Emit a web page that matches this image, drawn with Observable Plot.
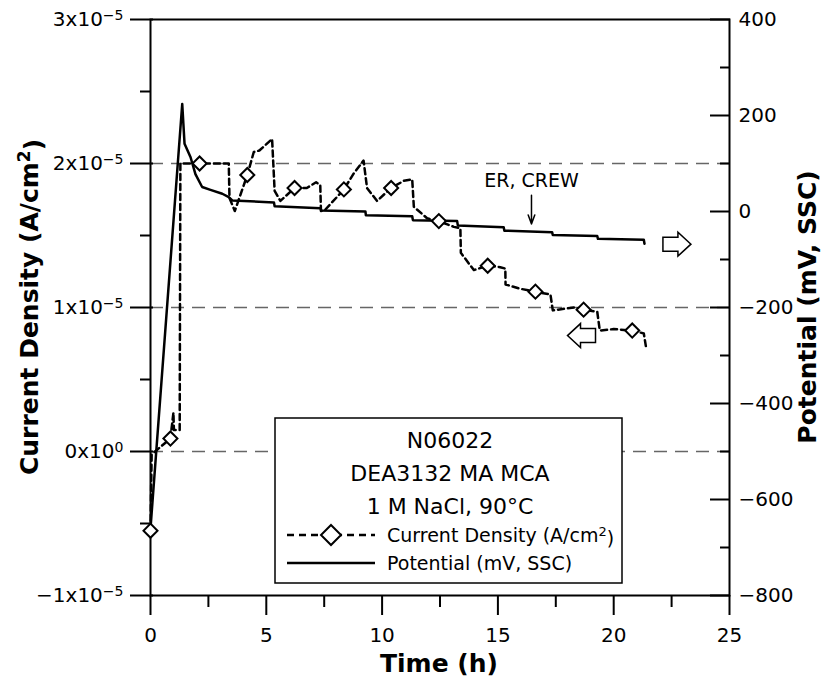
<!DOCTYPE html>
<html><head><meta charset="utf-8">
<script src="https://cdn.jsdelivr.net/npm/d3@7"></script>
<script src="https://cdn.jsdelivr.net/npm/@observablehq/plot@0.6"></script>
<style>html,body{margin:0;padding:0;background:#fff;} #chart{width:834px;height:691px;}</style>
</head><body><div id="chart"></div>
<script>
// ---------- data ----------
// Current density series (time in h, value in units of 1e-5 A/cm^2)
const cdTime  = [0, 0.05, 0.86, 0.99, 1.01, 1.26, 1.29, 2.12, 3.38, 3.41, 3.64, 4.18, 4.46, 4.7, 5.25, 5.36, 5.61, 6.22, 6.75, 7.15, 7.33, 7.36, 7.55, 8.35, 8.77, 9.2, 9.35, 9.78, 10.39, 10.94, 11.3, 11.37, 11.94, 12.45, 13.1, 13.38, 13.4, 13.96, 14.56, 15.1, 15.32, 15.33, 15.97, 16.62, 17.27, 17.37, 18.28, 18.7, 19.29, 19.4, 20.0, 20.8, 21.3, 21.41];
const cdValue = [-0.55, -0.02, 0.09, 0.27, 0.15, 0.15, 2.0, 2.0, 2.0, 1.76, 1.67, 1.92, 2.08, 2.09, 2.17, 1.81, 1.74, 1.83, 1.83, 1.87, 1.85, 1.67, 1.68, 1.82, 1.93, 2.02, 1.83, 1.74, 1.83, 1.88, 1.89, 1.70, 1.62, 1.6, 1.56, 1.55, 1.38, 1.26, 1.29, 1.28, 1.27, 1.16, 1.13, 1.11, 1.09, 0.98, 1.0, 0.985, 0.97, 0.84, 0.85, 0.84, 0.82, 0.71];
// Diamond markers on the current density series
const markTime  = [0, 0.86, 2.12, 4.18, 6.22, 8.35, 10.39, 12.45, 14.56, 16.62, 18.7, 20.8];
const markValue = [-0.55, 0.09, 2.0, 1.92, 1.83, 1.82, 1.83, 1.6, 1.29, 1.11, 0.985, 0.84];
// Potential series (time in h, mV vs SSC)
const potTime  = [0, 1.37, 1.47, 1.73, 1.94, 2.23, 2.59, 3.1, 3.38, 3.53, 5.33, 5.36, 7.34, 7.37, 9.28, 9.3, 11.3, 11.33, 13.24, 13.27, 15.25, 15.28, 17.34, 17.37, 19.29, 19.32, 21.3, 21.33];
const potValue = [-660, 224, 141, 113, 78, 51, 45, 37, 30, 23, 19, 11, 7, 2, 0, -8, -10, -18, -20, -29, -33, -40, -43, -49, -51, -57, -59, -67];

// Axes
const timeTicks = [0, 5, 10, 15, 20, 25];
const timeMinorTicks = [2.5, 7.5, 12.5, 17.5, 22.5];
const cdTicks = [-1, 0, 1, 2, 3];          // x 1e-5 A/cm^2
const cdMinorTicks = [-0.5, 0.5, 1.5, 2.5];
const cdGrid = [0, 1, 2];
const potTicks = [400, 200, 0, -200, -400, -600, -800];
const potMinorTicks = [300, 100, -100, -300, -500, -700];

// Annotations
const noteText = ["ER, CREW"];
const noteTime = [16.45];
const noteValue = [1.88];
const noteArrowFrom = [1.78];
const noteArrowTo = [1.58];
const sideArrowTime = [22.73, 18.61];
const sideArrowValue = [1.44, 0.805];
const sideArrowRot = [0, 180];

// Legend
const legendTitle = ["N06022", "DEA3132 MA MCA", "1 M NaCl, 90°C"];
const legendEntries = ["Current Density (A/cm", "Potential (mV, SSC)"];

// ---------- helpers ----------
const E = 1e-5;
const mvToCd = mv => ((mv + 800) / 1200 * 4 - 1) * E;
const cdToMv = v => Math.round((v / E + 1) / 4 * 1200 - 800);

const cdData = cdTime.map((t, i) => ({t, v: cdValue[i] * E}));
const markData = markTime.map((t, i) => ({t, v: markValue[i] * E}));
const potData = potTime.map((t, i) => ({t, v: mvToCd(potValue[i])}));
const notes = noteText.map((s, i) => ({s, t: noteTime[i], v: noteValue[i] * E, a1: noteArrowFrom[i] * E, a2: noteArrowTo[i] * E}));
const sideArrows = sideArrowTime.map((t, i) => ({t, v: sideArrowValue[i] * E, rot: sideArrowRot[i]}));

const hollowArrow = {
  draw(ctx) {
    ctx.moveTo(-14, -7); ctx.lineTo(1, -7); ctx.lineTo(1, -12); ctx.lineTo(14, 0);
    ctx.lineTo(1, 12); ctx.lineTo(1, 7); ctx.lineTo(-14, 7); ctx.closePath();
  }
};

const leftFmt = v => {
  const c = Math.round(v / E);
  return c === 0 ? "0x10^0" : `${c < 0 ? "\u2212" : ""}${Math.abs(c)}x10^\u22125`;
};
const rightFmt = v => { const m = cdToMv(v); return m < 0 ? "\u2212" + (-m) : String(m); };

const W = 834, H = 691, ML = 150, MR = 105, MT = 19, MB = 96;

const chart = Plot.plot({
  width: W, height: H,
  marginLeft: ML, marginRight: MR, marginTop: MT, marginBottom: MB,
  x: {domain: [0, 25]},
  y: {domain: [-1 * E, 3 * E]},
  style: {fontFamily: "DejaVu Sans", fontSize: "20px", color: "black", background: "white", overflow: "visible"},
  marks: [
    Plot.ruleY(cdGrid.map(d => d * E), {stroke: "#666", strokeWidth: 1.5, strokeDasharray: "13,8"}),
    // left axis
    Plot.axisY(cdTicks.map(d => d * E), {anchor: "left", tickSize: 23, dx: 3, text: null, strokeWidth: 2, label: null}),
    Plot.axisY(cdMinorTicks.map(d => d * E), {anchor: "left", tickSize: 10, text: null, strokeWidth: 2, label: null}),
    Plot.axisY(cdTicks.map(d => d * E), {anchor: "left", tickSize: 0, tickPadding: 27, tickFormat: leftFmt, fontSize: 20, label: null}),
    // right axis
    Plot.axisY(potTicks.map(mvToCd), {anchor: "right", tickSize: 20, dx: -20, text: null, strokeWidth: 2, label: null}),
    Plot.axisY(potMinorTicks.map(mvToCd), {anchor: "right", tickSize: 10, dx: -10, text: null, strokeWidth: 2, label: null}),
    Plot.axisY(potTicks.map(mvToCd), {anchor: "right", tickSize: 0, tickPadding: 9, tickFormat: rightFmt, fontSize: 20, label: null}),
    // bottom axis
    Plot.axisX(timeTicks, {anchor: "bottom", tickSize: 20, text: null, strokeWidth: 2, label: null}),
    Plot.axisX(timeMinorTicks, {anchor: "bottom", tickSize: 12, text: null, strokeWidth: 2, label: null}),
    Plot.axisX(timeTicks, {anchor: "bottom", tickSize: 0, tickPadding: 32, fontSize: 20, label: null}),
    Plot.frame({stroke: "black", strokeWidth: 2}),
    // data
    Plot.line(potData, {x: "t", y: "v", stroke: "black", strokeWidth: 2.5, curve: "linear"}),
    Plot.line(cdData, {x: "t", y: "v", stroke: "black", strokeWidth: 2.5, strokeDasharray: "6,4"}),
    Plot.dot(markData, {x: "t", y: "v", symbol: "square", r: 5.6, rotate: 45, fill: "white", stroke: "black", strokeWidth: 2}),
    // annotations
    Plot.text(notes, {x: "t", y: "v", text: "s", fontSize: 19, fill: "black"}),
    Plot.arrow(notes, {x1: "t", x2: "t", y1: "a1", y2: "a2", stroke: "black", strokeWidth: 1.5, headLength: 10, headAngle: 40}),
    Plot.dot(sideArrows, {x: "t", y: "v", symbol: hollowArrow, rotate: "rot", fill: "white", stroke: "black", strokeWidth: 1.5})
  ]
});

document.getElementById("chart").appendChild(chart);
const svg = d3.select(chart);

// superscript exponents in left tick labels
svg.selectAll("text").each(function() {
  const s = this.textContent;
  const m = s.match(/^(.*x10)\^(.*)$/);
  if (!m) return;
  const el = d3.select(this);
  el.text(null);
  el.append("tspan").text(m[1]);
  el.append("tspan").attr("dy", "-0.45em").attr("font-size", "14px").text(m[2]);
});

// axis titles
const tf = "DejaVu Sans";
const lt = svg.append("text").attr("transform", "translate(38,307) rotate(-90)")
  .attr("text-anchor", "middle").attr("font-family", tf).attr("font-weight", "bold").attr("font-size", 25).attr("fill", "black");
lt.append("tspan").text("Current Density (A/cm");
lt.append("tspan").attr("dy", "-0.45em").attr("font-size", 17).text("2");
lt.append("tspan").attr("dy", "0.45em").text(")");

svg.append("text").attr("transform", "translate(816,307) rotate(-90)")
  .attr("text-anchor", "middle").attr("font-family", tf).attr("font-weight", "bold").attr("font-size", 25).attr("fill", "black")
  .text("Potential (mV, SSC)");

svg.append("text").attr("x", 439).attr("y", 672)
  .attr("text-anchor", "middle").attr("font-family", tf).attr("font-weight", "bold").attr("font-size", 25).attr("fill", "black")
  .text("Time (h)");

// legend box
const lg = svg.append("g").attr("font-family", tf).attr("fill", "black");
lg.append("rect").attr("x", 275).attr("y", 418).attr("width", 347).attr("height", 165)
  .attr("fill", "white").attr("stroke", "black").attr("stroke-width", 1.5);
legendTitle.forEach((s, i) => {
  lg.append("text").attr("x", 450).attr("y", 448 + i * 33).attr("text-anchor", "middle").attr("font-size", 22).text(s);
});
lg.append("line").attr("x1", 287).attr("x2", 375).attr("y1", 535).attr("y2", 535)
  .attr("stroke", "black").attr("stroke-width", 2.5).attr("stroke-dasharray", "7,5");
lg.append("path").attr("d", "M331,525L341,535L331,545L321,535Z").attr("fill", "white").attr("stroke", "black").attr("stroke-width", 2);
lg.append("line").attr("x1", 287).attr("x2", 375).attr("y1", 563).attr("y2", 563)
  .attr("stroke", "black").attr("stroke-width", 2.5);
const e1 = lg.append("text").attr("x", 387).attr("y", 542).attr("font-size", 19).attr("text-anchor", "start");
e1.append("tspan").text(legendEntries[0]);
e1.append("tspan").attr("dy", "-0.45em").attr("font-size", 13).text("2");
e1.append("tspan").attr("dy", "0.45em").text(")");
lg.append("text").attr("x", 387).attr("y", 570).attr("font-size", 19).attr("text-anchor", "start").text(legendEntries[1]);
</script>
</body></html>
